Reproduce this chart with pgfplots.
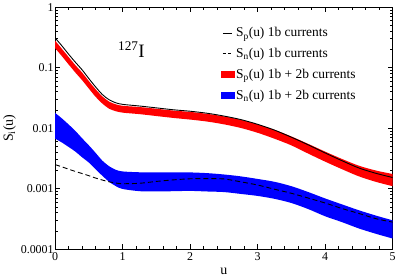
\documentclass[border=0pt]{standalone}
\usepackage{pgfplots}
\pgfplotsset{compat=1.18}
\usepackage{pgfplotstable}
\usepgfplotslibrary{fillbetween}
\usepackage{fontspec}
\setmainfont{Liberation Serif}
\pgfplotstableread{
u sp sptop spbot sn sntop snbot
0 0.31 0.28 0.21 0.0025 0.0179 0.0067
0.1 0.23 0.205 0.155 0.0023 0.0145 0.0058
0.2 0.167 0.15 0.113 0.0021 0.0115 0.0049
0.3 0.123 0.11 0.083 0.00193 0.0090 0.0041
0.4 0.092 0.083 0.062 0.00178 0.0068 0.0033
0.5 0.066 0.060 0.045 0.00164 0.0052 0.0027
0.6 0.048 0.044 0.033 0.0015 0.0039 0.0021
0.7 0.036 0.0335 0.0255 0.00139 0.0029 0.00163
0.8 0.0295 0.0275 0.021 0.0013 0.00235 0.0013
0.9 0.0263 0.0248 0.0191 0.00124 0.00205 0.00110
1.0 0.0248 0.0235 0.0181 0.00121 0.00193 0.00099
1.25 0.0233 0.0224 0.0171 0.00123 0.00187 0.00091
1.5 0.0217 0.021 0.0159 0.00132 0.00187 0.00090
1.75 0.0202 0.0196 0.0148 0.0014 0.00187 0.00091
2.0 0.0191 0.0186 0.0139 0.00146 0.00186 0.00092
2.25 0.0177 0.0173 0.0129 0.00147 0.00181 0.00090
2.5 0.0159 0.0157 0.0116 0.00145 0.00172 0.00088
2.75 0.0139 0.0138 0.0101 0.0013 0.0016 0.00082
3.0 0.0116 0.0116 0.0084 0.00115 0.00145 0.00076
3.25 0.0093 0.0094 0.0067 0.00098 0.0013 0.00068
3.5 0.0071 0.0073 0.0052 0.00084 0.0011 0.00058
3.75 0.0053 0.0055 0.0038 0.0007 0.00088 0.00046
4.0 0.0039 0.0041 0.0028 0.00058 0.00069 0.00035
4.25 0.0029 0.0031 0.0021 0.00047 0.00055 0.00028
4.5 0.0022 0.0024 0.0016 0.00039 0.00044 0.00022
4.75 0.0018 0.0020 0.00130 0.00032 0.00036 0.00018
5.0 0.00153 0.00175 0.00110 0.00028 0.0003 0.00015
}\data
\begin{document}
\begin{tikzpicture}[x=1pt,y=1pt]
\begin{axis}[
  scale only axis, width=339pt, height=243pt,
  ymode=log, xmin=0, xmax=5, ymin=1e-4, ymax=1,
  xtick={0,1,2,3,4,5}, minor x tick num=4,
  ytick={1e-4,1e-3,1e-2,1e-1,1},
  yticklabels={0.0001,0.001,0.01,0.1,1},
  tick align=inside, major tick length=5pt, minor tick length=3pt,
  axis line style={line width=0.9pt}, every tick/.style={black, line width=0.8pt},
  tick label style={font=\fontsize{12}{14}\selectfont},
  yticklabel style={xshift=2pt},
  /pgf/number format/assume math mode=true,
  xlabel={u}, ylabel={S$_\mathrm{i}$(u)},
  label style={font=\fontsize{14}{16}\selectfont},
  xlabel style={yshift=0pt},
  ylabel style={yshift=-2pt},
  legend style={draw=none, fill=none, at={(rel axis cs:0.49,0.925)}, anchor=north west,
    font=\fontsize{13.5}{15}\selectfont, row sep=6pt, inner sep=0pt},
  legend cell align=left,
]
\addlegendimage{legend image code/.code={\draw[black, line width=0.9pt] (2pt,0pt) -- (11pt,0pt);}}
\addlegendentry{S$_\mathrm{p}$(u) 1b currents}
\addlegendimage{legend image code/.code={\draw[black, line width=0.9pt, dash pattern=on 3pt off 2pt] (2pt,0pt) -- (11pt,0pt);}}
\addlegendentry{S$_\mathrm{n}$(u) 1b currents}
\addlegendimage{legend image code/.code={\fill[red] (0pt,-3pt) rectangle (13pt,3pt);}}
\addlegendentry{S$_\mathrm{p}$(u) 1b + 2b currents}
\addlegendimage{legend image code/.code={\fill[blue] (0pt,-3pt) rectangle (13pt,3pt);}}
\addlegendentry{S$_\mathrm{n}$(u) 1b + 2b currents}
\addplot[name path=rt, draw=none, smooth, forget plot] table[x=u,y=sptop]{\data};
\addplot[name path=rb, draw=none, smooth, forget plot] table[x=u,y=spbot]{\data};
\addplot[red, forget plot] fill between[of=rt and rb];
\addplot[name path=bt, draw=none, smooth, forget plot] table[x=u,y=sntop]{\data};
\addplot[name path=bb, draw=none, smooth, forget plot] table[x=u,y=snbot]{\data};
\addplot[blue, forget plot] fill between[of=bt and bb];
\addplot[black, line width=0.9pt, smooth, forget plot] table[x=u,y=sp]{\data};
\addplot[black, line width=0.9pt, smooth, dash pattern=on 5pt off 3pt, forget plot] table[x=u,y=sn]{\data};
\node[font=\fontsize{19}{21}\selectfont] at (axis cs:1.13,0.2) {\textsuperscript{127}I};
\end{axis}
\end{tikzpicture}
\end{document}
